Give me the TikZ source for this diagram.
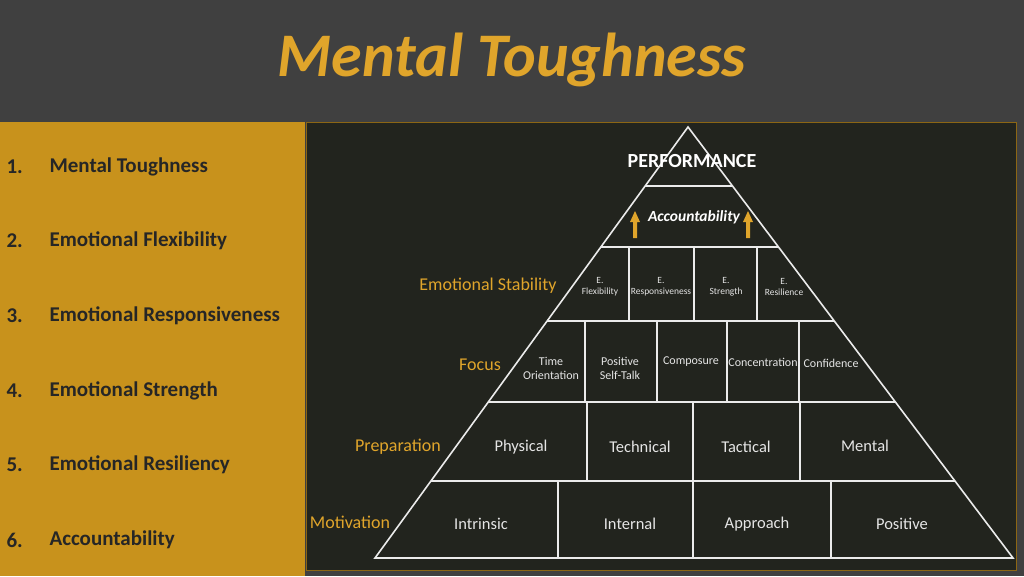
\documentclass[tikz,border=0pt]{standalone}
\usepackage{fontspec}
\setmainfont{Carlito}
\begin{document}
\begin{tikzpicture}[x=1pt,y=-1pt,
  line/.style={draw=white!92!black,line width=1.6pt},
  cell/.style={text=white!90!black,font=\fontsize{16.5}{18}\selectfont,align=center},
  small/.style={text=white!90!black,font=\fontsize{12}{14}\selectfont,align=center},
  tiny/.style={text=white!90!black,font=\fontsize{9.5}{11}\selectfont,align=center,inner sep=0pt},
  lvl/.style={text=gold,font=\fontsize{18}{20}\selectfont},
  item/.style={anchor=west,text=black!85,font=\bfseries\fontsize{21}{24}\selectfont}]
\definecolor{gold}{HTML}{E0A52B}
\definecolor{panel}{HTML}{C8921C}
\definecolor{board}{HTML}{22241E}
\fill[black!75] (0,0) rectangle (1024,576);
\useasboundingbox (0,0) rectangle (1024,576);
\fill[panel] (0,122) rectangle (305,576);
\fill[board] (306,122) rectangle (1016,570);
\draw[panel!70!black,line width=1pt] (306,122) rectangle (1016,570);
\node[text=gold,font=\bfseries\itshape\fontsize{62}{70}\selectfont] (title) at (512,60) {Mental Toughness};
\foreach \n/\t/\y in {1/Mental Toughness/167,2/Emotional Flexibility/241,3/Emotional Responsiveness/316,4/Emotional Strength/391,5/Emotional Resiliency/465,6/Accountability/540}{
  \node[item] (num\n) at (3,\y) {\n.};
  \node[item] (it\n) at (46,\y) {\t};
}
% pyramid
\draw[line] (688,127) -- (375,558) -- (1013,558) -- cycle;
\draw[line] (645,186) -- (732,186);
\draw[line] (601,247) -- (778,247);
\draw[line] (547,321) -- (834,321);
\draw[line] (488,402) -- (895,402);
\draw[line] (431,481) -- (955,481);
\foreach \x in {629,694,757} \draw[line] (\x,247) -- (\x,321);
\foreach \x in {585,657,727,799} \draw[line] (\x,321) -- (\x,402);
\foreach \x in {587,693,800} \draw[line] (\x,402) -- (\x,481);
\foreach \x in {558,693,831} \draw[line] (\x,481) -- (\x,558);
\node[text=white,font=\bfseries\fontsize{20}{22}\selectfont] (perf) at (692,161) {PERFORMANCE};
\node[text=white,font=\itshape\bfseries\fontsize{15.5}{17}\selectfont] (acc) at (694,217) {Accountability};
\fill[gold] (633,238) rectangle (637,222) (630,222) -- (640,222) -- (635,211) -- cycle;
\fill[gold] (746,238) rectangle (750,222) (743,222) -- (753,222) -- (748,211) -- cycle;
\node[tiny] (c1) at (600,287) {E.\\Flexibility};
\node[tiny] (c2) at (661,287) {E.\\Responsiveness};
\node[tiny] (c3) at (726,287) {E.\\Strength};
\node[tiny] (c4) at (784,287) {E.\\Resilience};
\node[small] (f1) at (551,368) {Time\\Orientation};
\node[small] (f2) at (620,368) {Positive\\Self-Talk};
\node[small] (f3) at (691,362) {Composure};
\node[small,inner sep=0pt] (f4) at (763,362) {Concentration};
\node[small] (f5) at (831,363) {Confidence};
\node[cell] (p1) at (521,447) {Physical};
\node[cell] (p2) at (640,447) {Technical};
\node[cell] (p3) at (746,447) {Tactical};
\node[cell] (p4) at (865,446) {Mental};
\node[cell] (m1) at (481,524) {Intrinsic};
\node[cell] (m2) at (630,524) {Internal};
\node[cell] (m3) at (757,524) {Approach};
\node[cell] (m4) at (902,524) {Positive};
\node[lvl] (l1) at (488,286) {Emotional Stability};
\node[lvl] (l2) at (480,365) {Focus};
\node[lvl] (l3) at (398,447) {Preparation};
\node[lvl] (l4) at (350,522) {Motivation};
\end{tikzpicture}
\end{document}
